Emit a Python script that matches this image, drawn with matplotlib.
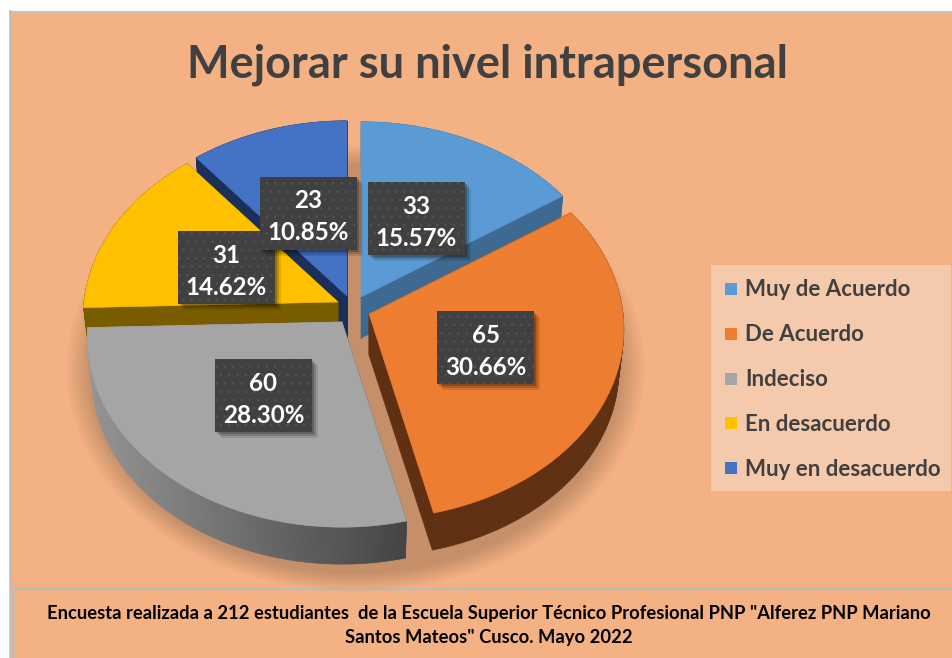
import numpy as np
import matplotlib
matplotlib.use('Agg')
import matplotlib.pyplot as plt
from matplotlib.collections import PolyCollection
from matplotlib.colors import to_rgb
from matplotlib.patches import Polygon, Rectangle

plt.rcParams['font.family'] = ['Lato', 'DejaVu Sans']
plt.rcParams['hatch.linewidth'] = 0.6

# datos
categorias = ['Muy de Acuerdo', 'De Acuerdo', 'Indeciso', 'En desacuerdo', 'Muy en desacuerdo']
cantidades = [33, 65, 60, 31, 23]
porcentajes = ['15.57%', '30.66%', '28.30%', '14.62%', '10.85%']

titulo = 'Mejorar su nivel intrapersonal'
nota = ['Encuesta realizada a 212 estudiantes  de la Escuela Superior Técnico Profesional PNP "Alferez PNP Mariano',
        'Santos Mateos" Cusco. Mayo 2022']

# colores
fondo = '#F4B183'
colores = ['#5B9BD5', '#ED7D31', '#A5A5A5', '#FFC000', '#4472C4']
lados = ['#3E6A92', '#5F3012', None, '#7A5C00', '#1A2F5A']

# posicion de cada porcion (vertice en pixeles) y de su etiqueta
vertices = [(361, 297), (369, 314), (342, 322), (338, 302), (347, 296)]
etiquetas_xy = [(416.5, 218), (486, 347.5), (263.5, 395.5), (226.5, 267.5), (308.5, 213)]
RX, RY, K, ALTO = 254, 189, 0.079, 41


def proyectar(theta, vertice, esc=1.0):
    # disco visto en perspectiva: lo de atras se ve mas chico
    u, v = np.sin(theta), np.cos(theta)
    s = 1 / (1 + K * v)
    return vertice[0] + esc * RX * u * s, vertice[1] - esc * RY * v * s


def contorno(t0, t1, vertice, esc=1.0):
    t = np.linspace(t0, t1, 120)
    x, y = proyectar(t, vertice, esc)
    return np.r_[vertice[0], x], np.r_[vertice[1], y]


fig = plt.figure(figsize=(9.53, 6.58), dpi=100, facecolor='white')
ax = fig.add_axes([0, 0, 1, 1])

# fondo, bordes y caja de la nota (a la derecha y abajo se cortan con la imagen)
ax.add_patch(Rectangle((10, 12), 950, 650, fc=fondo, ec='none', zorder=1))
ax.plot([10, 953], [11.5, 11.5], color='#CFC3B7', lw=1.6, zorder=2)
ax.plot([10, 10], [11, 658], color='#BDBDBD', lw=1.8, zorder=2)
ax.plot([953, 14.5, 14.5], [588.5, 588.5, 658], color='#B9BDBE', lw=1.5, zorder=2)

# sombra difusa bajo el pastel
yy, xx = np.mgrid[0:658, 0:953]
d = np.hypot((xx - 355) / 290, (yy - 368) / 224)
alfa = np.clip((1 - d) / 0.09, 0, 1)
sombra = np.zeros((658, 953, 4))
sombra[..., :3] = to_rgb('#C48F69')
sombra[..., 3] = alfa
ax.imshow(sombra, extent=(0, 953, 658, 0), aspect='auto', zorder=3, interpolation='bilinear')

# porciones, de atras hacia adelante
angulos = np.r_[0, np.cumsum(cantidades)] / np.sum(cantidades) * 2 * np.pi
for i in [4, 0, 3, 1, 2]:
    t0, t1 = angulos[i], angulos[i + 1]
    xa, ya = contorno(t0, t1, vertices[i])
    abajo = (vertices[i][0], vertices[i][1] + ALTO)
    xb, yb = contorno(t0, t1, abajo, 0.98)
    xa, ya = np.r_[xa, xa[0]], np.r_[ya, ya[0]]
    xb, yb = np.r_[xb, xb[0]], np.r_[yb, yb[0]]
    caras = [[(xa[j], ya[j]), (xa[j + 1], ya[j + 1]), (xb[j + 1], yb[j + 1]), (xb[j], yb[j])]
             for j in range(len(xa) - 1)]
    if lados[i] is None:
        # el lado gris va degradado de izquierda a derecha
        f = np.clip((np.array([c[0][0] for c in caras]) - 90) / 315, 0, 1)
        c_lado = [(0.58 - 0.31 * q,) * 3 for q in f]
    else:
        c_lado = lados[i]
    ax.add_collection(PolyCollection(caras, facecolors=c_lado, edgecolors=c_lado, linewidths=0.5, zorder=4))
    ax.add_patch(Polygon(np.c_[xa, ya], closed=True, fc=colores[i], ec=colores[i], lw=0.4, zorder=4))

# etiquetas de datos
for i in range(5):
    x, y = etiquetas_xy[i]
    w, h = 97, 73
    z = 5 + i * 0.1
    for off, a in [(6, 0.10), (4, 0.16), (2, 0.22)]:
        ax.add_patch(Rectangle((x - w / 2 + off, y - h / 2 + off), w, h, fc='black', ec='none', alpha=a, zorder=z))
    ax.add_patch(Rectangle((x - w / 2, y - h / 2), w, h, fc='#404040', ec='none', zorder=z + 0.01))
    ax.add_patch(Rectangle((x - w / 2, y - h / 2), w, h, fc='none', ec='#525252', hatch='..', lw=0, zorder=z + 0.02))
    ax.text(x, y - 12, str(cantidades[i]), color='white', fontsize=17.4, fontweight='bold',
            ha='center', va='center', zorder=z + 0.03)
    ax.text(x, y + 20, porcentajes[i], color='white', fontsize=17.4, fontweight='bold',
            ha='center', va='center', zorder=z + 0.03)

# leyenda
ax.add_patch(Rectangle((711, 265), 240, 226, fc='#F4C9AC', ec='none', zorder=5))
for i, cat in enumerate(categorias):
    yc = 289 + i * 44.8
    ax.add_patch(Rectangle((725, yc - 6), 12, 12, fc=colores[i], ec='none', zorder=6))
    ax.text(745, yc + 1, cat, color='#404040', fontsize=16, fontweight='bold', va='center', ha='left', zorder=6)

ax.text(488, 65, titulo, color='#404040', fontsize=32.5, fontweight='bold', ha='center', va='center', zorder=6)
ax.text(489, 614, nota[0], color='black', fontsize=13.2, fontweight='bold', ha='center', va='center', zorder=6)
ax.text(489, 637, nota[1], color='black', fontsize=13.2, fontweight='bold', ha='center', va='center', zorder=6)

ax.set_xlim(0, 953)
ax.set_ylim(658, 0)
ax.axis('off')
fig.savefig('out.png', dpi=100, facecolor='white')
